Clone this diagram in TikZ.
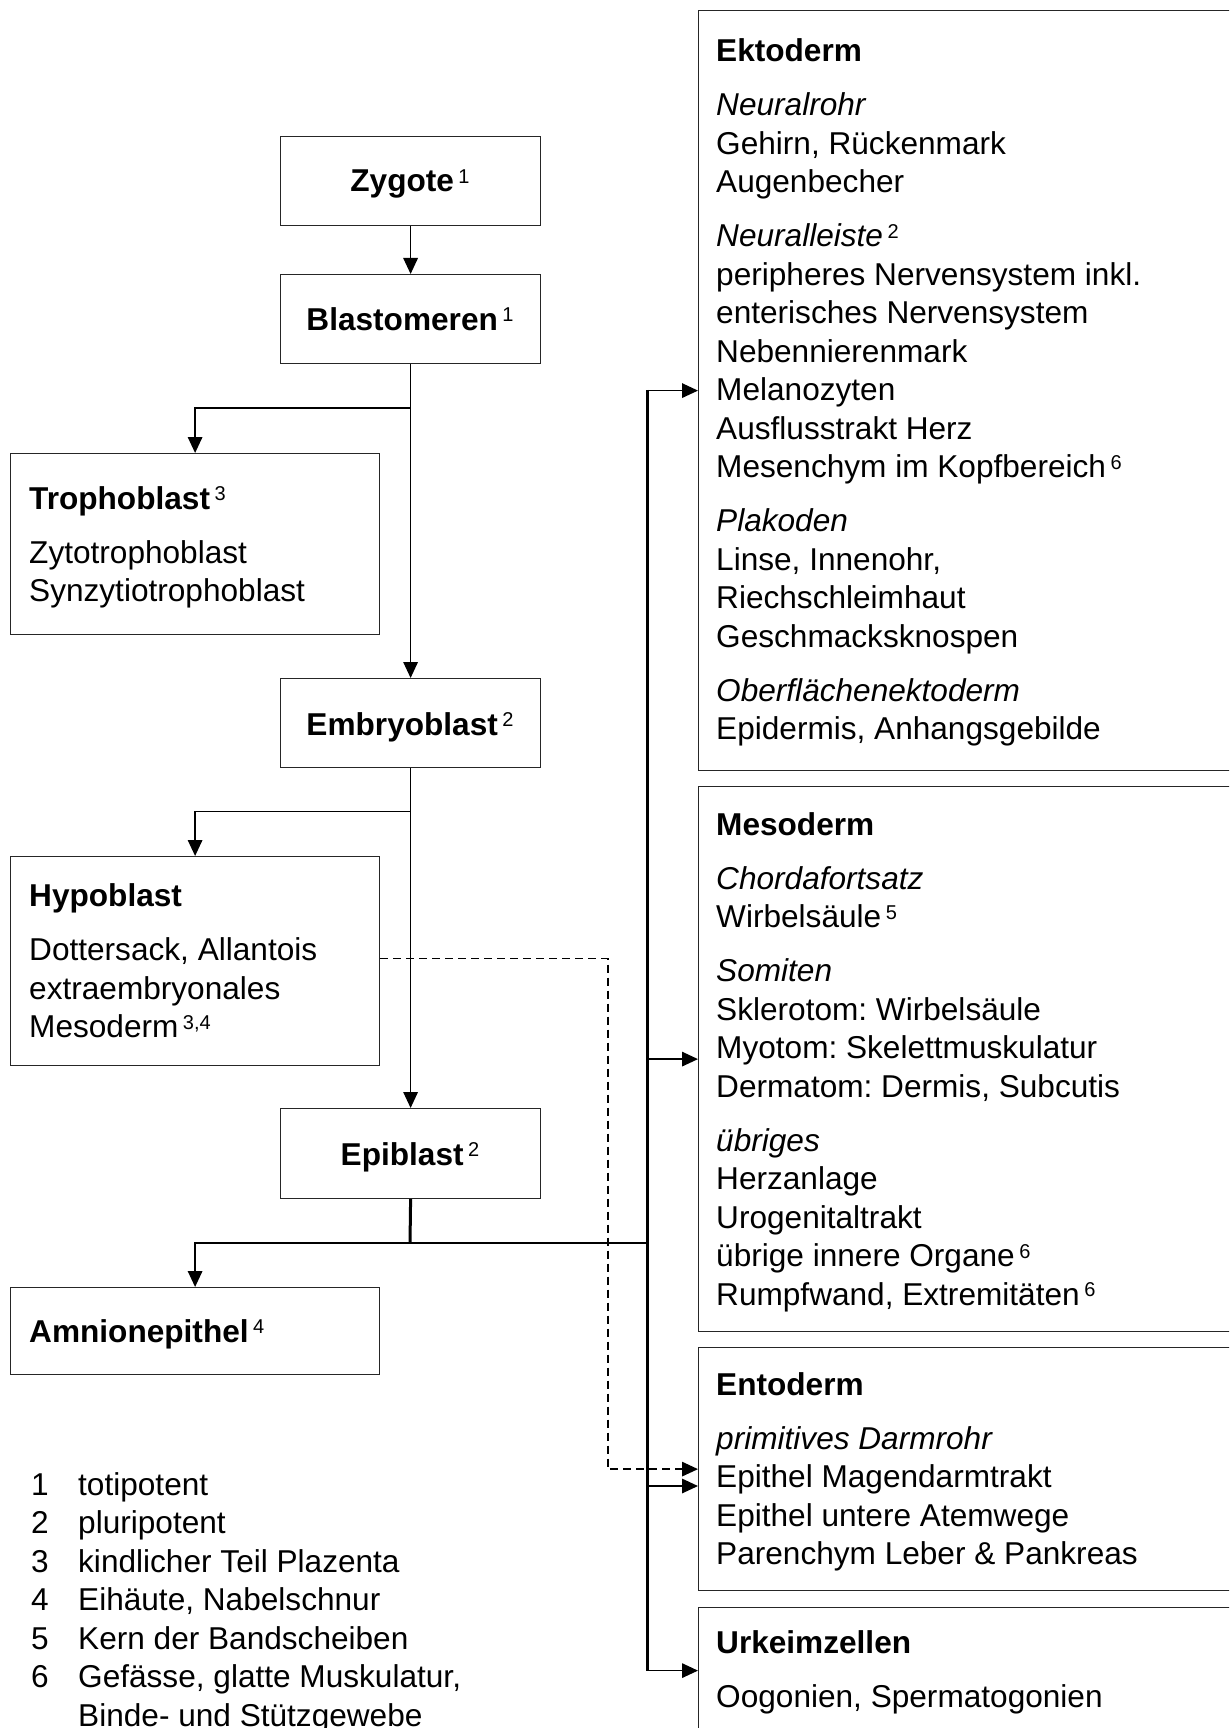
\documentclass[tikz,border=0pt]{standalone}
\usepackage{fontspec}
\setmainfont{Liberation Sans}
\usetikzlibrary{arrows.meta}
\newcommand{\sups}[1]{\kern4.5pt\raisebox{8.5pt}{\fontsize{20}{20}\selectfont\upshape\mdseries #1}}
\frenchspacing
\begin{document}
\frenchspacing
\begin{tikzpicture}[x=1pt,y=-1pt,
  box/.style={draw=black!85,line width=1.2pt,rectangle,inner sep=0pt,anchor=north west},
  txt/.style={inner sep=0pt,anchor=base west,font=\fontsize{31.6}{38.5}\selectfont\frenchspacing},
  ctxt/.style={inner sep=0pt,anchor=base,font=\fontsize{31.6}{38.5}\selectfont\bfseries},
  conn/.style={line width=1.6pt},
  arr/.style={conn,-{Triangle[length=16pt,width=14.5pt]}},
  bus/.style={line width=3pt},
  darr/.style={line width=1.4pt,dash pattern=on 8pt off 5pt,-{Triangle[length=16pt,width=14.5pt]}}]
\useasboundingbox (0,0) rectangle (1229,1728);
\fill[white] (0,0) rectangle (1229,1728);
\clip (0,0) rectangle (1229,1728);

% left column boxes
\node[box,minimum width=260pt,minimum height=89pt] (zyg) at (280,136) {};
\node[box,minimum width=260pt,minimum height=89pt] (blast) at (280,274) {};
\node[box,minimum width=369pt,minimum height=181pt] (troph) at (10,453) {};
\node[box,minimum width=260pt,minimum height=89pt] (emb) at (280,678) {};
\node[box,minimum width=369pt,minimum height=209pt] (hypo) at (10,856) {};
\node[box,minimum width=260pt,minimum height=90pt] (epi) at (280,1108) {};
\node[box,minimum width=369pt,minimum height=87pt] (amn) at (10,1287) {};

% right column boxes
\node[box,minimum width=560pt,minimum height=760pt] (ekto) at (698,10) {};
\node[box,minimum width=560pt,minimum height=545pt] (meso) at (698,786) {};
\node[box,minimum width=560pt,minimum height=243pt] (endo) at (698,1347) {};
\node[box,minimum width=560pt,minimum height=126pt] (urk) at (698,1607) {};

% texts
\node[ctxt] (tzyg) at (410,191.7) {Zygote\sups{1}};
\node[ctxt] (tblast) at (410,330) {Blastomeren\sups{1}};
\node[ctxt] (temb) at (410,735) {Embryoblast\sups{2}};
\node[ctxt] (tepi) at (410,1165) {Epiblast\sups{2}};

\node[txt] (ttroph) at (29,509) {\begin{tabular}[t]{@{}l@{}}
\textbf{Trophoblast}\sups{3}\\[15.5pt]
Zytotrophoblast\\
Synzytiotrophoblast
\end{tabular}};

\node[txt] (thypo) at (29,906) {\begin{tabular}[t]{@{}l@{}}
\textbf{Hypoblast}\\[16pt]
Dottersack, Allantois\\
extraembryonales\\
Mesoderm\sups{3,4}
\end{tabular}};

\node[txt] (tamn) at (29,1342) {\textbf{Amnionepithel}\sups{4}};

\node[txt] (tekto) at (716,62) {\begin{tabular}[t]{@{}l@{}}
\textbf{Ektoderm}\\[15.5pt]
\textit{Neuralrohr}\\
Gehirn, Rückenmark\\
Augenbecher\\[15.5pt]
\textit{Neuralleiste}\sups{2}\\
peripheres Nervensystem inkl.\\
enterisches Nervensystem\\
Nebennierenmark\\
Melanozyten\\
Ausflusstrakt Herz\\
Mesenchym im Kopfbereich\sups{6}\\[15.5pt]
\textit{Plakoden}\\
Linse, Innenohr,\\
Riechschleimhaut\\
Geschmacksknospen\\[15.5pt]
\textit{Oberflächenektoderm}\\
Epidermis, Anhangsgebilde
\end{tabular}};

\node[txt] (tmeso) at (716,835) {\begin{tabular}[t]{@{}l@{}}
\textbf{Mesoderm}\\[15.5pt]
\textit{Chordafortsatz}\\
Wirbelsäule\sups{5}\\[15.5pt]
\textit{Somiten}\\
Sklerotom: Wirbelsäule\\
Myotom: Skelettmuskulatur\\
Dermatom: Dermis, Subcutis\\[15.5pt]
\textit{übriges}\\
Herzanlage\\
Urogenitaltrakt\\
übrige innere Organe\sups{6}\\
Rumpfwand, Extremitäten\sups{6}
\end{tabular}};

\node[txt] (tendo) at (716,1395) {\begin{tabular}[t]{@{}l@{}}
\textbf{Entoderm}\\[15.5pt]
\textit{primitives Darmrohr}\\
Epithel Magendarmtrakt\\
Epithel untere Atemwege\\
Parenchym Leber \& Pankreas
\end{tabular}};

\node[txt] (turk) at (716,1653) {\begin{tabular}[t]{@{}l@{}}
\textbf{Urkeimzellen}\\[15.5pt]
Oogonien, Spermatogonien
\end{tabular}};

\node[txt] (legend) at (31,1495) {\begin{tabular}[t]{@{}p{47pt}@{}l@{}}
1 & totipotent\\
2 & pluripotent\\
3 & kindlicher Teil Plazenta\\
4 & Eihäute, Nabelschnur\\
5 & Kern der Bandscheiben\\
6 & Gefässe, glatte Muskulatur,\\
  & Binde- und Stützgewebe
\end{tabular}};

% connectors
\coordinate (j1) at (410,408);
\coordinate (j2) at (410,811.5);
\coordinate (j3) at (410,1243);
\coordinate (bus) at (647,0);
\coordinate (dv) at (608,0);
\coordinate (bE) at (647,1486);

\draw[arr] (zyg.south) -- (blast.north);
\draw[arr] (blast.south) -- (emb.north);
\draw[arr] (j1) -| (troph.north);
\draw[arr] (emb.south) -- (epi.north);
\draw[arr] (j2) -| (hypo.north);
\draw[bus] (epi.south) -- ([yshift=-0.8pt]j3);
\draw[arr] (j3 -| bus) -- (j3) -| (amn.north);

\draw[bus] ([yshift=0.8pt]ekto.west -| bus) -- ([yshift=-0.8pt]urk.west -| bus);
\draw[arr] (ekto.west -| bus) -- (ekto.west);
\draw[arr] (meso.west -| bus) -- (meso.west);
\draw[arr] (bE) -- (bE -| endo.west);
\draw[arr] (urk.west -| bus) -- (urk.west);

\draw[darr] ([yshift=2.8pt]hypo.east) -| (dv |- endo.west) -- (endo.west);
\end{tikzpicture}
\end{document}
